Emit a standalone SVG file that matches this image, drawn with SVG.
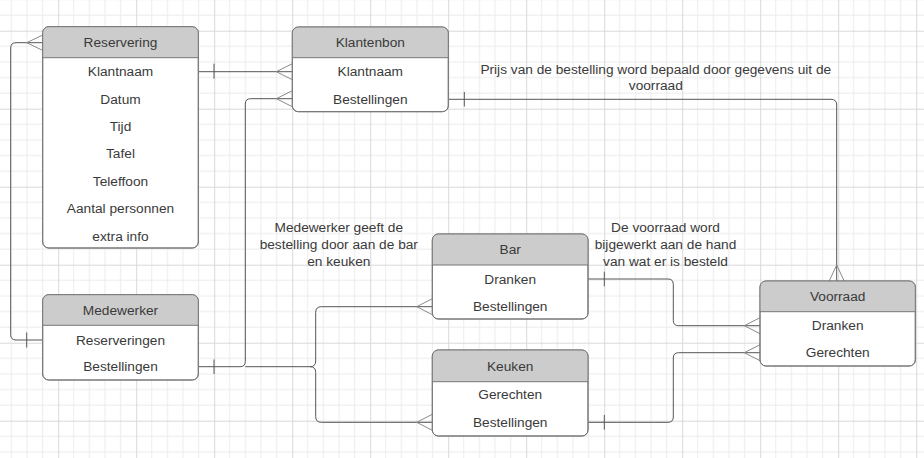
<svg xmlns="http://www.w3.org/2000/svg" width="924" height="458" viewBox="0 0 924 458">
<defs>
<pattern id="grid" x="58.2" y="30.7" width="78" height="78" patternUnits="userSpaceOnUse">
<path d="M15.6,0V78M31.2,0V78M46.8,0V78M62.4,0V78M0,15.6H78M0,31.2H78M0,46.8H78M0,62.4H78" stroke="#ebebeb" stroke-width="1" fill="none"/>
<path d="M0.5,0V78M0,0.5H78" stroke="#d9d9d9" stroke-width="1" fill="none"/>
</pattern>
<style>
.box{fill:#ffffff;stroke:#777777;stroke-width:1}
.hd{fill:#cccccc}
.out{fill:none;stroke:#777777;stroke-width:1}
.sep{stroke:#777777;stroke-width:1}
text{font-family:"Liberation Sans",Arial,sans-serif;font-size:13.7px;fill:#3a3a3a;text-anchor:middle}
.ln{fill:none;stroke:#555555;stroke-width:1}
.cf{fill:none;stroke:#8a8a8a;stroke-width:1}
.bar{stroke:#555555;stroke-width:1}
</style>
</defs>
<rect width="924" height="458" fill="#ffffff"/>
<rect width="924" height="458" fill="url(#grid)"/>

<g id="connectors">
<path class="ln" d="M42.7,340H16Q10.7,340 10.7,334.7V48Q10.7,42.7 16,42.7H42.7"/>
<line class="bar" x1="26.7" y1="332.5" x2="26.7" y2="347.5"/>
<path class="cf" d="M42.7,35L26.7,42.7L42.7,50.4"/>

<path class="ln" d="M198.3,71.7H292.3"/>
<line class="bar" x1="214" y1="63.7" x2="214" y2="78.7"/>
<path class="cf" d="M292.3,63.7L276.3,71.7L292.3,79.7"/>

<path class="ln" d="M198.3,366.7H240Q245.3,366.7 245.3,361.4V104Q245.3,98.7 250.6,98.7H292.3"/>
<line class="bar" x1="214" y1="359.5" x2="214" y2="374"/>
<path class="cf" d="M292.3,90.7L276.3,98.7L292.3,106.7"/>

<path class="ln" d="M245.3,366.7H310Q315.7,366.7 315.7,361V312.4Q315.7,306.7 321.4,306.7H432.3"/>
<path class="cf" d="M432.3,298.7L416.7,306.7L432.3,314.7"/>
<path class="ln" d="M310,366.7Q315.7,366.7 315.7,372.4V416.6Q315.7,422.3 321.4,422.3H432.3"/>
<path class="cf" d="M432.3,414.3L416.7,422.3L432.3,430.3"/>

<path class="ln" d="M448.3,99.3H831Q836.7,99.3 836.7,105V281"/>
<line class="bar" x1="464.3" y1="92" x2="464.3" y2="106.5"/>
<path class="cf" d="M829.2,281L836.7,265L844.2,281"/>

<path class="ln" d="M588.3,279H668Q673.3,279 673.3,284.3V320.4Q673.3,325.7 678.6,325.7H760"/>
<line class="bar" x1="604.3" y1="271.7" x2="604.3" y2="286.3"/>
<path class="cf" d="M760,317.7L744.3,325.7L760,333.7"/>

<path class="ln" d="M588.3,422.3H668Q673.3,422.3 673.3,417V358Q673.3,352.7 678.6,352.7H760"/>
<line class="bar" x1="604.3" y1="415" x2="604.3" y2="429.6"/>
<path class="cf" d="M760,344.7L744.3,352.7L760,360.7"/>
</g>

<g id="node-reservering">
<rect class="box" x="42.7" y="26.7" width="155.6" height="221.3" rx="6"/>
<path class="hd" d="M42.7,57.7V32.7A6,6 0 0 1 48.7,26.7H192.3A6,6 0 0 1 198.3,32.7V57.7Z"/>
<rect class="out" x="42.7" y="26.7" width="155.6" height="221.3" rx="6"/>
<line class="sep" x1="42.7" y1="57.7" x2="198.3" y2="57.7"/>
<text x="120.5" y="46.9">Reservering</text>
<text x="120.5" y="76.4">Klantnaam</text>
<text x="120.5" y="103.7">Datum</text>
<text x="120.5" y="131.1">Tijd</text>
<text x="120.5" y="158.4">Tafel</text>
<text x="120.5" y="185.8">Teleffoon</text>
<text x="120.5" y="213.1">Aantal personnen</text>
<text x="120.5" y="240.5">extra info</text>
</g>

<g id="node-klantenbon">
<rect class="box" x="292.3" y="27" width="156" height="84.7" rx="6"/>
<path class="hd" d="M292.3,57.7V33A6,6 0 0 1 298.3,27H442.3A6,6 0 0 1 448.3,33V57.7Z"/>
<rect class="out" x="292.3" y="27" width="156" height="84.7" rx="6"/>
<line class="sep" x1="292.3" y1="57.7" x2="448.3" y2="57.7"/>
<text x="370.3" y="47">Klantenbon</text>
<text x="370.3" y="76.4">Klantnaam</text>
<text x="370.3" y="103.7">Bestellingen</text>
</g>

<g id="node-medewerker">
<rect class="box" x="42.7" y="294.7" width="155.6" height="85.3" rx="6"/>
<path class="hd" d="M42.7,325.3V300.7A6,6 0 0 1 48.7,294.7H192.3A6,6 0 0 1 198.3,300.7V325.3Z"/>
<rect class="out" x="42.7" y="294.7" width="155.6" height="85.3" rx="6"/>
<line class="sep" x1="42.7" y1="325.3" x2="198.3" y2="325.3"/>
<text x="120.5" y="314.7">Medewerker</text>
<text x="120.5" y="344.7">Reserveringen</text>
<text x="120.5" y="371.4">Bestellingen</text>
</g>

<g id="node-bar">
<rect class="box" x="432.3" y="234" width="155.7" height="85" rx="6"/>
<path class="hd" d="M432.3,265V240A6,6 0 0 1 438.3,234H582A6,6 0 0 1 588,240V265Z"/>
<rect class="out" x="432.3" y="234" width="155.7" height="85" rx="6"/>
<line class="sep" x1="432.3" y1="265" x2="588" y2="265"/>
<text x="510.2" y="254.2">Bar</text>
<text x="510.2" y="283.7">Dranken</text>
<text x="510.2" y="310.9">Bestellingen</text>
</g>

<g id="node-keuken">
<rect class="box" x="432.3" y="350" width="155.7" height="86" rx="6"/>
<path class="hd" d="M432.3,381.7V356A6,6 0 0 1 438.3,350H582A6,6 0 0 1 588,356V381.7Z"/>
<rect class="out" x="432.3" y="350" width="155.7" height="86" rx="6"/>
<line class="sep" x1="432.3" y1="381.7" x2="588" y2="381.7"/>
<text x="510.2" y="370.5">Keuken</text>
<text x="510.2" y="399">Gerechten</text>
<text x="510.2" y="427">Bestellingen</text>
</g>

<g id="node-voorraad">
<rect class="box" x="760" y="281" width="155.3" height="85" rx="6"/>
<path class="hd" d="M760,311.7V287A6,6 0 0 1 766,281H909.3A6,6 0 0 1 915.3,287V311.7Z"/>
<rect class="out" x="760" y="281" width="155.3" height="85" rx="6"/>
<line class="sep" x1="760" y1="311.7" x2="915.3" y2="311.7"/>
<text x="837.7" y="301.3">Voorraad</text>
<text x="837.7" y="330.4">Dranken</text>
<text x="837.7" y="357.4">Gerechten</text>
</g>

<g id="labels">
<text x="655.8" y="73.7">Prijs van de bestelling word bepaald door gegevens uit de</text>
<text x="655.8" y="90.2">voorraad</text>
<text x="338.8" y="232">Medewerker geeft de</text>
<text x="338.8" y="249">bestelling door aan de bar</text>
<text x="338.8" y="266">en keuken</text>
<text x="665.5" y="232">De voorraad word</text>
<text x="665.5" y="249">bijgewerkt aan de hand</text>
<text x="665.5" y="266">van wat er is besteld</text>
</g>
</svg>
